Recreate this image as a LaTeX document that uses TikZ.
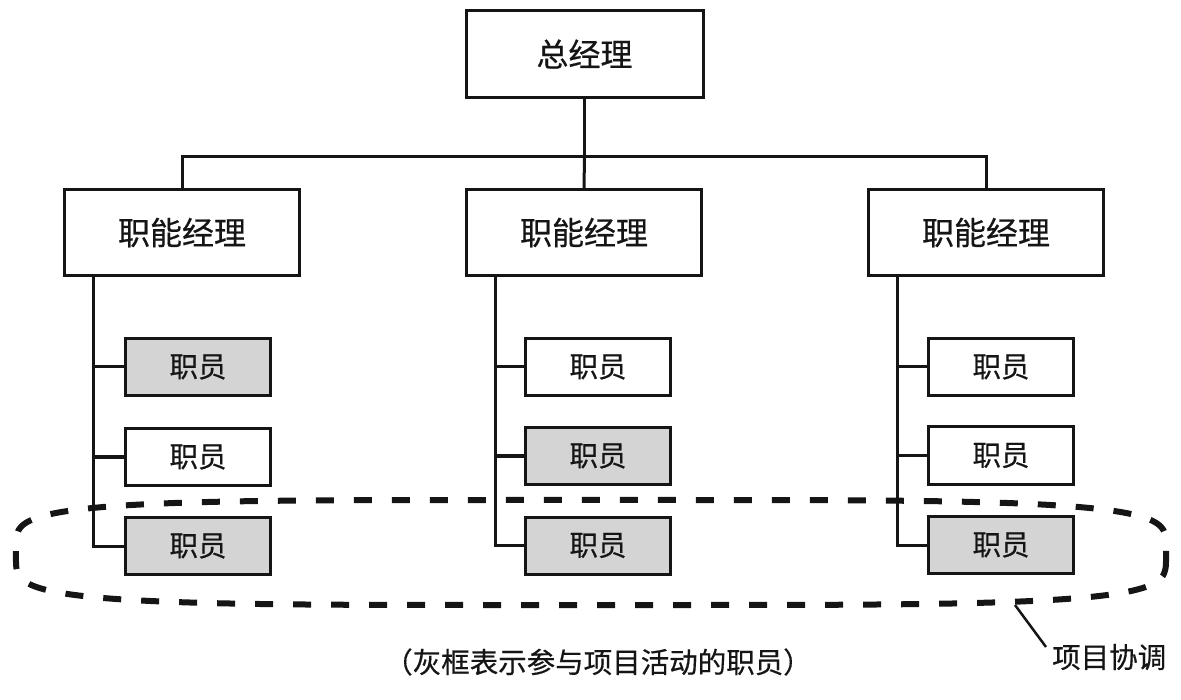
\documentclass[tikz,border=0pt]{standalone}
\usepackage{fontspec}
\setmainfont{Noto Sans CJK SC}
\newfontfamily\cjk[FakeBold=0.5]{Noto Sans CJK SC}
\usetikzlibrary{calc}
\definecolor{ink}{HTML}{151515}
\definecolor{boxgray}{HTML}{D4D4D4}
\tikzset{
  base/.style={draw=ink, line width=3pt, inner sep=0pt, text=ink, font=\cjk\fontsize{32}{36}\selectfont},
  topbox/.style={base, minimum width=237pt, minimum height=87pt},
  mgrbox/.style={base, minimum width=235pt, minimum height=86pt},
  staffbox/.style={base, fill=white, minimum width=145pt, minimum height=57pt, font=\cjk\fontsize{28.5}{32}\selectfont},
  activebox/.style={staffbox, fill=boxgray},
  conn/.style={draw=ink, line width=3pt},
  coord/.style={draw=ink, line width=6pt, dash pattern=on 18pt off 20pt},
  note/.style={text=ink, font=\cjk\fontsize{28.5}{32}\selectfont, inner sep=0pt},
}
\begin{document}
\begin{tikzpicture}[x=1pt, y=-1pt]
\useasboundingbox (0,0) rectangle (1181,700);
% boxes
\node[topbox] (gm) at (584.5,54) {总经理};
\node[mgrbox] (m1) at (182,232.5) {职能经理};
\node[mgrbox] (m2) at (584,232.5) {职能经理};
\node[mgrbox] (m3) at (986,232.5) {职能经理};
\node[activebox] (s11) at (198,367) {职员};
\node[staffbox]  (s12) at (198,457) {职员};
\node[activebox] (s13) at (198,546) {职员};
\node[staffbox]  (s21) at (598,367) {职员};
\node[activebox] (s22) at (598,456) {职员};
\node[activebox] (s23) at (598,545.5) {职员};
\node[staffbox]  (s31) at (1001,367) {职员};
\node[staffbox]  (s32) at (1001,455.5) {职员};
\node[activebox] (s33) at (1001,545) {职员};
% top connectors
\draw[conn] (gm.south) -- ++(0,58) coordinate (bar);
\draw[conn] (m1.north) |- (bar) -| (m3.north);
\draw[conn] (bar) -- (m2.north);
% column connectors
\foreach \m/\a/\b/\c in {m1/s11/s12/s13, m2/s21/s22/s23, m3/s31/s32/s33}{
  \draw[conn] ([xshift=30pt]\m.south west) coordinate (v) |- (\c.west);
  \draw[conn] (\a.west) -- (\a.west -| v);
  \draw[conn] (\b.west) -- (\b.west -| v);
}
% project coordination outline
\draw[coord] plot[domain=0.5:359.5, samples=360]
  ({591+575*sign(cos(\x))*abs(cos(\x))^0.444}, {552.5+52.5*sign(sin(\x))*abs(sin(\x))^0.444}) -- cycle;
\coordinate (lead) at (1015,605);
\node[note, anchor=west] (lbl) at (1052,657) {项目协调};
\coordinate (leadend) at (1046,647);
\draw[conn, line width=2.5pt] (lead) -- (leadend);
% caption
\node[note] (cap) at (598,662) {（灰框表示参与项目活动的职员）};
\end{tikzpicture}
\end{document}
